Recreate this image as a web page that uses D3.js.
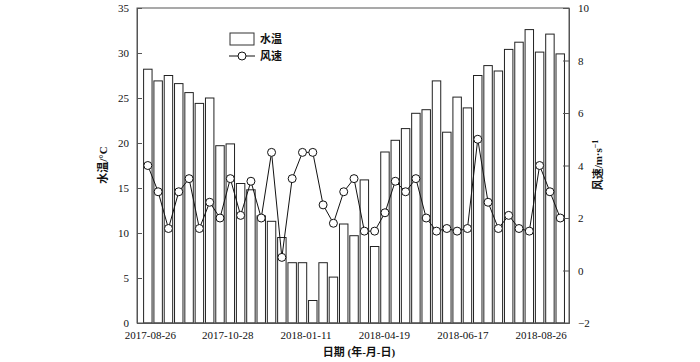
<!DOCTYPE html>
<html><head><meta charset="utf-8">
<script src="https://cdn.jsdelivr.net/npm/d3@7"></script>
<style>body{margin:0;background:#fff}svg{display:block}</style>
</head><body>
<svg id="c" width="700" height="362"></svg>
<script>
const waterTemp = [28.2,26.9,27.5,26.6,25.6,24.4,25.0,19.7,19.9,15.5,
  14.8,11.9,11.3,9.5,6.7,6.7,2.5,6.7,5.1,11.0,
  9.7,15.9,8.5,19.0,20.3,21.6,23.3,23.7,26.9,21.2,
  25.1,23.9,27.5,28.6,28.0,30.4,31.2,32.6,30.1,32.1,29.9];
const windSpeed = [4.0,3.0,1.6,3.0,3.5,1.6,2.6,2.0,3.5,2.1,
  3.4,2.0,4.5,0.5,3.5,4.5,4.5,2.5,1.8,3.0,
  3.5,1.5,1.5,2.2,3.4,3.0,3.5,2.0,1.5,1.6,
  1.5,1.6,5.0,2.6,1.6,2.1,1.6,1.5,4.0,3.0,2.0];
const dateLabels = ["2017-08-26","2017-10-28","2018-01-11","2018-04-19","2018-06-17","2018-08-26"];
const datePos = [0.2,7.7,15.3,22.9,30.5,38.1];
const leftTicks = [0,5,10,15,20,25,30,35];
const rightTicks = [-2,0,2,4,6,8,10];

const svg = d3.select("#c");
const L = 137, R = 569, T = 8, B = 323;
const numFont = "'Liberation Serif','Times New Roman',serif";
const cjkFont = "'Liberation Serif','Noto Sans CJK SC',serif";

const x = d3.scaleLinear().domain([-1.05, 40.85]).range([L, R]);
const yL = d3.scaleLinear().domain([0, 35]).range([B, T]);
const yR = d3.scaleLinear().domain([-2, 10]).range([B, T]);
const step = x(1) - x(0);
const bw = step * 0.82;
const idx = d3.range(waterTemp.length);

// bars
svg.append("g").selectAll("rect").data(idx).join("rect")
  .attr("x", i => x(i) - bw/2).attr("y", i => yL(waterTemp[i]))
  .attr("width", bw).attr("height", i => B - yL(waterTemp[i]))
  .attr("fill", "#fff").attr("stroke", "#222").attr("stroke-width", 1);

// frame
svg.append("rect").attr("x", L).attr("y", T).attr("width", R - L).attr("height", B - T)
  .attr("fill", "none").attr("stroke", "#555").attr("stroke-width", 1);

// line
svg.append("path").datum(idx)
  .attr("d", d3.line().x(i => x(i)).y(i => yR(windSpeed[i])))
  .attr("fill", "none").attr("stroke", "#111").attr("stroke-width", 1);
svg.append("g").selectAll("circle").data(idx).join("circle")
  .attr("cx", i => x(i)).attr("cy", i => yR(windSpeed[i])).attr("r", 4)
  .attr("fill", "#fff").attr("stroke", "#111").attr("stroke-width", 1);

// axes
const gl = svg.append("g").attr("transform", `translate(${L},0)`)
  .call(d3.axisLeft(yL).tickValues(leftTicks).tickSize(-5).tickPadding(8));
const gr = svg.append("g").attr("transform", `translate(${R},0)`)
  .call(d3.axisRight(yR).tickValues(rightTicks).tickSize(-6).tickPadding(9));
const gb = svg.append("g").attr("transform", `translate(0,${B})`)
  .call(d3.axisBottom(x).tickValues(datePos).tickFormat((d,i) => dateLabels[i]).tickSize(0).tickPadding(8));
[gl, gr, gb].forEach(g => {
  g.select(".domain").attr("stroke", "#555");
  g.selectAll(".tick line").attr("stroke", "#555");
  g.selectAll("text").attr("font-family", numFont).attr("font-size", 11).attr("fill", "#111");
});

// axis titles
svg.append("text").attr("x", 359).attr("y", 356).attr("text-anchor", "middle")
  .attr("font-family", cjkFont).attr("font-size", 11).attr("font-weight", "bold").attr("fill", "#111").text("日期 (年-月-日)");
svg.append("text").attr("transform", "translate(107,165) rotate(-90)").attr("text-anchor", "middle")
  .attr("font-family", cjkFont).attr("font-size", 11).attr("font-weight", "bold").attr("fill", "#111").text("水温/°C");
const rt = svg.append("text").attr("transform", "translate(602,165) rotate(-90)").attr("text-anchor", "middle")
  .attr("font-family", cjkFont).attr("font-size", 11).attr("font-weight", "bold").attr("fill", "#111");
rt.append("tspan").text("风速/m·s");
rt.append("tspan").attr("dy", -4).attr("font-size", 8).text("−1");

// legend
const lg = svg.append("g");
lg.append("rect").attr("x", 230).attr("y", 33).attr("width", 24).attr("height", 12)
  .attr("fill", "#fff").attr("stroke", "#333");
lg.append("text").attr("x", 260).attr("y", 43).attr("font-family", cjkFont).attr("font-size", 11).attr("font-weight", "bold").attr("fill", "#111").text("水温");
lg.append("line").attr("x1", 229).attr("x2", 255).attr("y1", 56).attr("y2", 56).attr("stroke", "#111");
lg.append("circle").attr("cx", 242).attr("cy", 56).attr("r", 4).attr("fill", "#fff").attr("stroke", "#111");
lg.append("text").attr("x", 260).attr("y", 60).attr("font-family", cjkFont).attr("font-size", 11).attr("font-weight", "bold").attr("fill", "#111").text("风速");
</script>
</body></html>
